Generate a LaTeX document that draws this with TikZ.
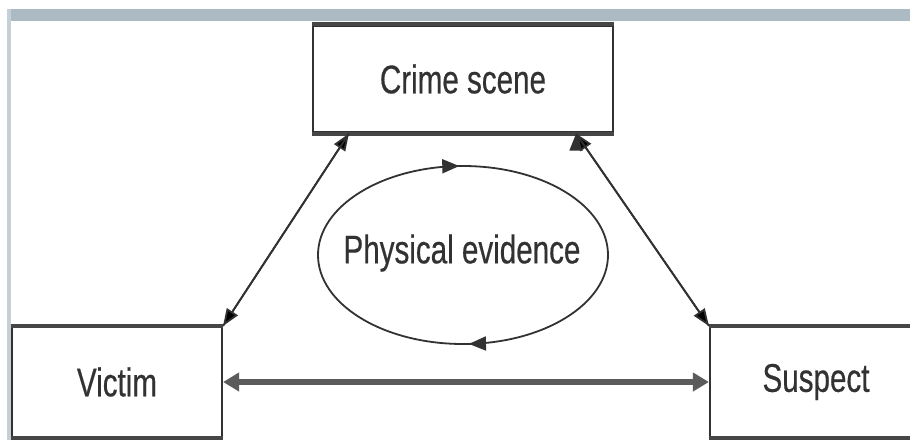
\documentclass[tikz,border=0pt]{standalone}
\usepackage{fontspec}
\setmainfont{Liberation Sans}[FakeStretch=0.74,FakeBold=0.4]
\usetikzlibrary{arrows.meta,shapes.geometric,decorations.markings}

\definecolor{framegray}{RGB}{172,186,196}
\definecolor{inkgray}{RGB}{50,50,50}

\begin{document}
\begin{tikzpicture}[x=1pt,y=-1pt,
				tip/.style={-{Triangle[length=17pt,width=13pt]}},
				box/.style={draw=inkgray,line width=2.2pt,inner sep=0pt,
									text=inkgray,font=\fontsize{40}{40}\selectfont},
				link/.style={draw=inkgray,line width=1.8pt}]
\path[ use as bounding box ] (0,0) rectangle (910,440);
\fill[white] (0,0) rectangle (910,440);
\fill[framegray] (7,9) rectangle (910,21);
\fill[framegray!70] (7,9) rectangle (11,440);

	\node[box,minimum width=300,minimum height=107] (crime) at (463,79) {Crime scene};
	\node[box,minimum width=210,minimum height=110] (victim) at (117,382) {Victim};
	\node[box,minimum width=212,minimum height=110] (suspect) at (816,382) {Suspect};
	\node[box,draw=none,ellipse] (evidence) at (462,253) {Physical evidence};

  % heavier top and bottom edges of the boxes
  \foreach \n in {crime,victim,suspect}
	\draw[inkgray!90,line width=4pt] (\n.north west) -- (\n.north east)
	(\n.south west) -- (\n.south east);

  \draw[link,postaction=decorate,decoration={markings,
	mark=at position 0.242 with {\arrow{Triangle[length=17pt,width=14pt]}},
	mark=at position 0.745 with {\arrow{Triangle[length=17pt,width=14pt]}}}]
	(463,255) ellipse [x radius=145, y radius=89];

  \coordinate (c_l) at ([xshift=37pt]crime.south west);
  \coordinate (c_r) at ([xshift=-38pt]crime.south east);

  \path[link,tip] (victim.north east) edge (c_l)
	(c_l) edge (victim.north east)
	(suspect.north west) edge (c_r)
	(c_r) edge (suspect.north west);
  \draw[inkgray!80,line width=6pt,{Triangle[length=16pt,width=18pt]}-{Triangle[length=16pt,width=18pt]}]
	(victim) -- (suspect);
\end{tikzpicture}
\end{document}
